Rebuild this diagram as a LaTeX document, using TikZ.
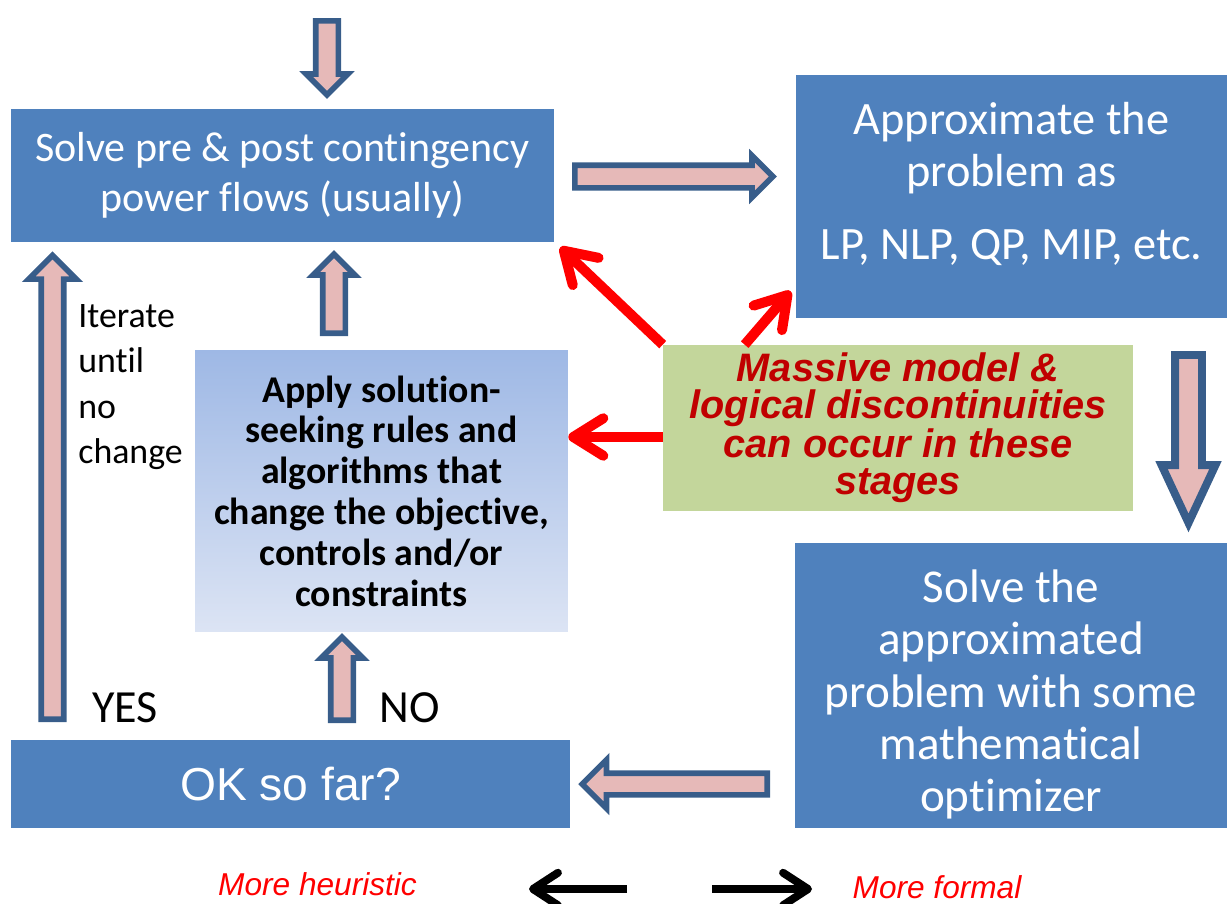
\documentclass[tikz,border=0pt]{standalone}
\usepackage{fontspec}
\setmainfont{Carlito}[RawFeature={-liga;-clig;-calt;-dlig}]
\newfontfamily\arialfont{Liberation Sans}
\usetikzlibrary{shapes.arrows,arrows.meta}

\definecolor{boxblue}{HTML}{4F81BD}
\definecolor{arrowblue}{HTML}{385D8A}
\definecolor{arrowpink}{HTML}{E6B9B8}
\definecolor{notegreen}{HTML}{C3D69B}
\definecolor{notered}{HTML}{C00000}
\definecolor{gradtop}{HTML}{9EB8E5}
\definecolor{gradbot}{HTML}{DCE4F4}

\tikzset{
	box/.style={fill=boxblue, text=white, align=center, inner sep=0pt},
	blockarrow/.style={single arrow, draw=arrowblue, fill=arrowpink, line width=3.2pt,
		inner sep=0.17cm, single arrow head extend=0.19cm, anchor=tail},
	hint/.style={line width=5.7pt, red, -{Straight Barb[length=0.6cm,width=0.75cm,round]}},
	sidearrow/.style={line width=4.5pt, -{Straight Barb[length=0.5cm,width=0.65cm,round]}}
}

\begin{document}
\begin{tikzpicture}[x=0.02cm, y=-0.02cm]
	\useasboundingbox (0,0) rectangle (1227,903);

	% the stages
	\node[box, minimum width=10.86cm, minimum height=2.66cm,
		font=\fontsize{23.9pt}{28.3pt}\selectfont] (solve) at (282.5,175.5)
		{Solve pre \& post contingency\\power flows (usually)};
	\node[box, minimum width=8.62cm, minimum height=4.86cm,
		font=\fontsize{26.4pt}{29.5pt}\selectfont] (approx) at (1011.5,196.5)
		{Approximate the\\problem as\\[12pt]LP, NLP, QP, MIP, etc.\\[-12pt]\mbox{}};
	\node[box, minimum width=8.64cm, minimum height=5.7cm,
		font=\fontsize{26.8pt}{29.8pt}\selectfont] (optim) at (1011,685.5)
		{\mbox{}\\[-1pt]Solve the\\approximated\\problem with some\\mathematical\\optimizer};
	\node[box, minimum width=11.18cm, minimum height=1.76cm,
		font=\arialfont\fontsize{26.3pt}{30pt}\selectfont] (okfar) at (290.5,784)
		{OK so far?};
	\node[top color=gradtop, bottom color=gradbot, align=center, inner sep=0pt,
		minimum width=7.46cm, minimum height=5.64cm,
		font=\bfseries\fontsize{21.5pt}{23.2pt}\selectfont] (rules) at (381.5,491)
		{Apply solution-\\seeking rules and\\algorithms that\\change the objective,\\controls and/or\\constraints};
	\node[fill=notegreen, text=notered, align=center, inner sep=0pt,
		minimum width=9.4cm, minimum height=3.32cm,
		font=\arialfont\bfseries\itshape\fontsize{22.6pt}{21pt}\selectfont] (note) at (898,428)
		{Massive model \&\\logical discontinuities\\can occur in these\\stages};

	% flow arrows
	\node[blockarrow, rotate=-90, minimum height=1.48cm] (inarr) at (327,18) {};
	\node[blockarrow, minimum height=3.96cm] (toapprox) at (572,176.5) {};
	\node[blockarrow, rotate=-90, minimum height=3.36cm, line width=4.5pt,
		inner sep=0.19cm, single arrow head extend=0.27cm, single arrow tip angle=50] (tooptim) at (1188.5,351) {};
	\node[blockarrow, rotate=180, minimum height=3.7cm, inner sep=0.16cm,
		single arrow head extend=0.27cm] (tookfar) at (770,784) {};
	\node[blockarrow, rotate=90, minimum height=9.28cm, inner sep=0.17cm,
		single arrow head extend=0.25cm] (yesarr) at (52.5,722) {};
	\node[blockarrow, rotate=90, minimum height=1.66cm] (noarr) at (342,723) {};
	\node[blockarrow, rotate=90, minimum height=1.58cm] (backarr) at (334,336) {};

	% labels
	\node[anchor=west, align=left, inner sep=0pt,
		font=\fontsize{20.4pt}{25.7pt}\selectfont] (iter) at (78,387)
		{Iterate\\until\\no\\change};
	\node[font=\fontsize{26.2pt}{30pt}\selectfont] (yes) at (125,708) {YES};
	\node[font=\fontsize{26.2pt}{30pt}\selectfont] (no) at (410,708) {NO};

	% where discontinuities come in
	\draw[hint] (note.north west) -- ([shift={(6,5)}]solve.south east);
	\draw[hint] ([xshift=1.64cm]note.north west) -- ([shift={(-5,-27)}]approx.south west);
	\draw[hint] ([yshift=-0.18cm]note.west) -- ([yshift=-0.18cm]note.west -| rules.east);

	% scale at the bottom
	\node[red, font=\arialfont\itshape\fontsize{18pt}{21pt}\selectfont] (heur) at (317.5,884) {More heuristic};
	\node[red, font=\arialfont\itshape\fontsize{18pt}{21pt}\selectfont] (formal) at (937,887) {More formal};
	\coordinate (lstart) at (627,889);
	\coordinate (lend) at (529,889);
	\coordinate (rstart) at (712,889);
	\coordinate (rend) at (812,889);
	\draw[sidearrow] (lstart) -- (lend);
	\draw[sidearrow] (rstart) -- (rend);
\end{tikzpicture}
\end{document}
